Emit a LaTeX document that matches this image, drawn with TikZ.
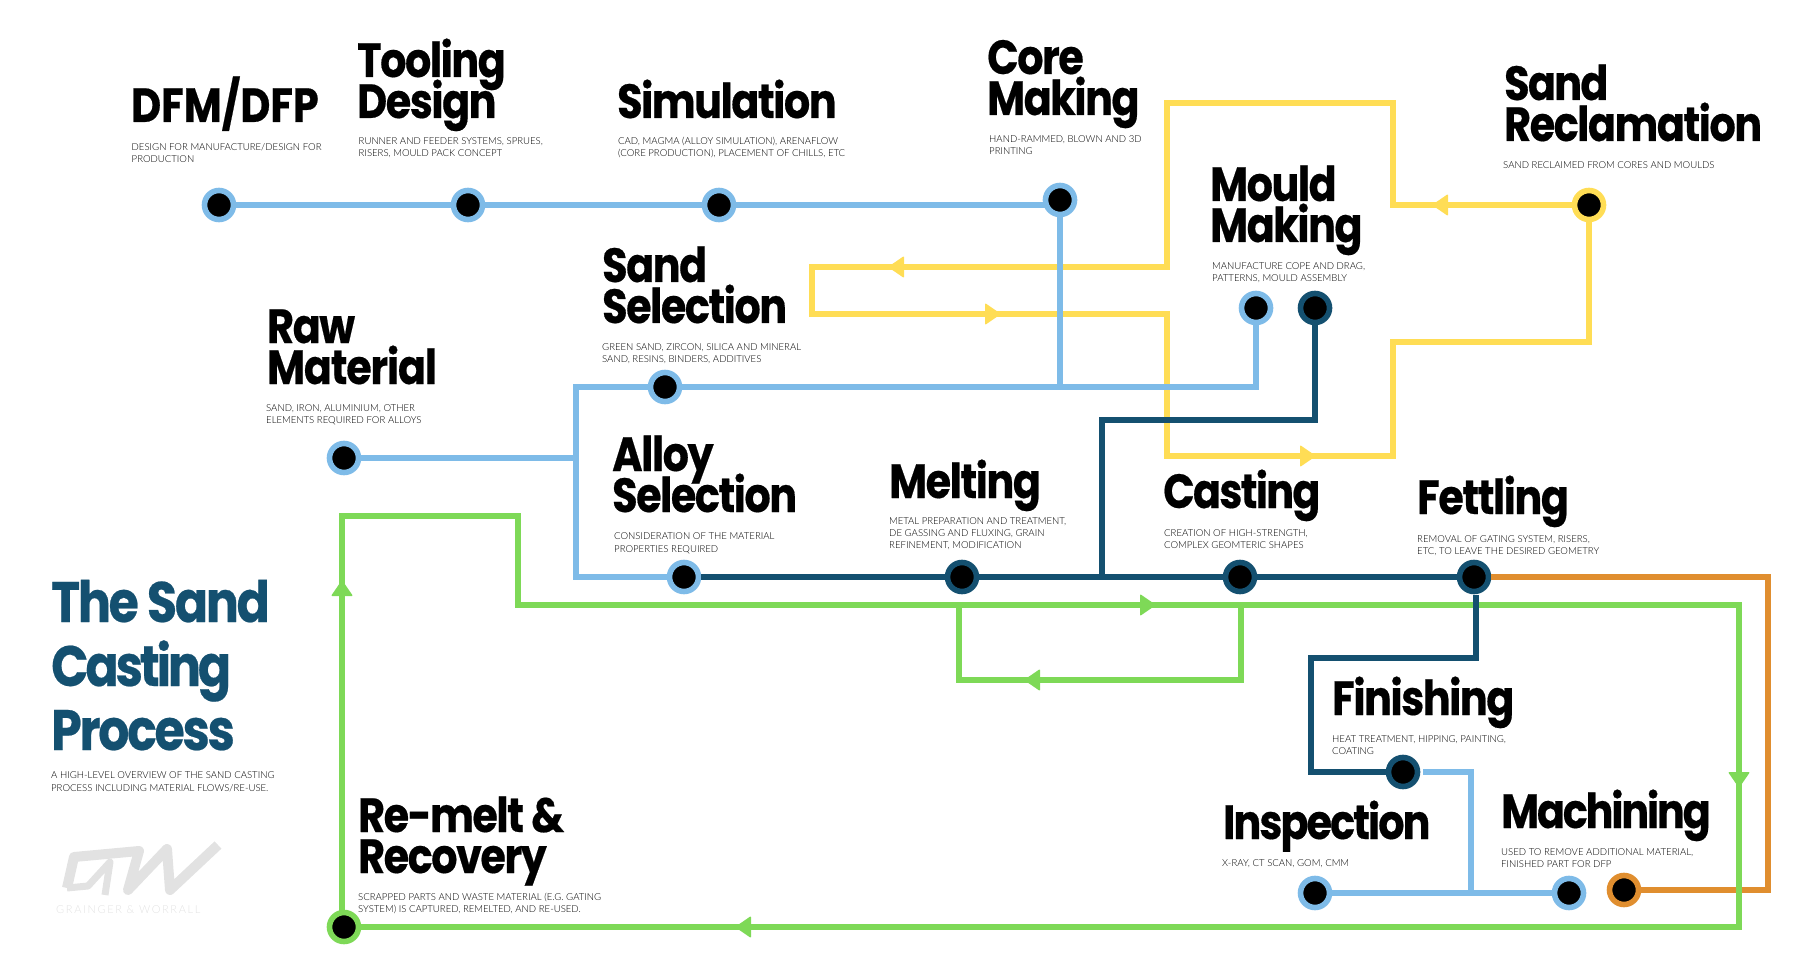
\documentclass[tikz,border=0pt]{standalone}
\usepackage{fontspec}
\newfontfamily\headfont[FakeStretch=0.86,LetterSpace=-3,FakeBold=0.4]{Poppins}
\newfontfamily\descfont{Lato Light}
\definecolor{pipeblue}{HTML}{7EBBE8}
\definecolor{pipedark}{HTML}{145070}
\definecolor{pipeyellow}{HTML}{FFDD55}
\definecolor{pipegreen}{HTML}{7ED957}
\definecolor{pipeorange}{HTML}{E08E2F}
\definecolor{logogray}{HTML}{E2E2E2}
\tikzset{
  pipe/.style={line width=5.4pt},
  stopdot/.style={circle,fill=black,minimum size=29pt,inner sep=0pt,line width=5.6pt},
  headtext/.style={anchor=base west,inner sep=0pt,xshift=-2pt,yshift=-1pt,align=left,font={\headfont\bfseries\fontsize{48}{41}\selectfont\lineskiplimit=-100pt}},
  titletext/.style={anchor=base west,inner sep=0pt,align=left,text=pipedark,font={\headfont\bfseries\fontsize{57}{64}\selectfont\addfontfeature{LetterSpace=-4}\lineskiplimit=-100pt}},
  desctext/.style={anchor=base west,inner sep=0pt,align=left,text=black,font=\descfont\fontsize{9.6}{12}\selectfont},
  flowtip/.pic={\fill[rounded corners=1pt] (-8,-11) -- (8,0) -- (-8,11) -- cycle;}
}
\begin{document}
\begin{tikzpicture}[x=1pt,y=-1pt]
  \useasboundingbox (0,0) rectangle (1799,968);
  % stops
  \node[stopdot,draw=pipeblue] (dfm) at (219,205) {};
  \node[stopdot,draw=pipeblue] (tooling) at (468,205) {};
  \node[stopdot,draw=pipeblue] (simulation) at (719,205) {};
  \node[stopdot,draw=pipeblue] (core) at (1060,200) {};
  \node[stopdot,draw=pipeyellow] (reclaim) at (1589,205) {};
  \node[stopdot,draw=pipeblue] (mouldblue) at (1256,308) {};
  \node[stopdot,draw=pipedark] (moulddark) at (1315,308) {};
  \node[stopdot,draw=pipeblue] (sandsel) at (665,387) {};
  \node[stopdot,draw=pipeblue] (raw) at (344,458) {};
  \node[stopdot,draw=pipeblue] (alloy) at (684,577) {};
  \node[stopdot,draw=pipedark] (melting) at (962,577) {};
  \node[stopdot,draw=pipedark] (casting) at (1240,577) {};
  \node[stopdot,draw=pipedark] (fettling) at (1474,577) {};
  \node[stopdot,draw=pipedark] (finishing) at (1403,772) {};
  \node[stopdot,draw=pipeblue] (inspection) at (1315,893) {};
  \node[stopdot,draw=pipeblue] (machining) at (1569,893) {};
  \node[stopdot,draw=pipeorange] (machout) at (1624,890) {};
  \node[stopdot,draw=pipegreen] (remelt) at (344,927) {};
  % bends
  \coordinate (oA) at (1768,577);
  \coordinate (yA) at (1393,205);
  \coordinate (yB) at (1393,103);
  \coordinate (yC) at (1167,103);
  \coordinate (yD) at (1167,267);
  \coordinate (yE) at (812,267);
  \coordinate (yF) at (812,314);
  \coordinate (yG) at (1167,314);
  \coordinate (yH) at (1167,456);
  \coordinate (yI) at (1393,456);
  \coordinate (yJ) at (1393,342);
  \coordinate (gS) at (342,912);
  \coordinate (gA) at (518,516);
  \coordinate (gB) at (518,605);
  \coordinate (gC) at (1739,605);
  \coordinate (gD) at (1739,927);
  \coordinate (gE) at (959,605);
  \coordinate (gF) at (1241,605);
  \coordinate (gG) at (1241,680);
  \coordinate (bA) at (576,387);
  \coordinate (bB) at (1423,772);
  \coordinate (bC) at (1471,893);
  \coordinate (bD) at (1045,205);
  \coordinate (dA) at (1102,577);
  \coordinate (dB) at (1102,420);
  \coordinate (dC) at (1476,595);
  \coordinate (dD) at (1476,658);
  \coordinate (dE) at (1311,658);
  % lines
  \draw[pipe,pipeorange] (fettling) -- (oA) |- (machout);
  \draw[pipe,pipeyellow] (reclaim) -- (yA) -- (yB) -- (yC) -- (yD) -- (yE) -- (yF) -- (yG) -- (yH) -- (yI) -- (yJ) -| (reclaim);
  \draw[pipe,pipegreen] (gS) |- (gA) -- (gB) -- (gC) -- (gD) -- (remelt);
  \draw[pipe,pipegreen] (gE) |- (gG) -- (gF);
  \draw[pipe,pipeblue] (dfm) -- (tooling) -- (simulation) -- (bD);
  \draw[pipe,pipeblue] (core) -- (core |- sandsel);
  \draw[pipe,pipeblue] (mouldblue) |- (sandsel) -- (bA) |- (alloy);
  \draw[pipe,pipeblue] (raw) -- (raw -| bA);
  \draw[pipe,pipeblue] (bB) -| (bC);
  \draw[pipe,pipeblue] (inspection) -- (machining);
  \draw[pipe,pipedark] (alloy) -- (melting) -- (casting) -- (fettling);
  \draw[pipe,pipedark] (moulddark) |- (dB) -- (dA);
  \draw[pipe,pipedark] (dC) -- (dD) -- (dE) |- (finishing);
  % arrow tips
  \pic[rotate=180,color=pipeyellow] at (1440,205) {flowtip};
  \pic[rotate=180,color=pipeyellow] at (896,267) {flowtip};
  \pic[color=pipeyellow] at (993,314) {flowtip};
  \pic[color=pipeyellow] at (1308,456) {flowtip};
  \pic[rotate=90,color=pipegreen] at (342,588) {flowtip};
  \pic[color=pipegreen] at (1148,605) {flowtip};
  \pic[rotate=180,color=pipegreen] at (1032,680) {flowtip};
  \pic[rotate=180,color=pipegreen] at (743,927) {flowtip};
  \pic[rotate=-90,color=pipegreen] at (1739,780) {flowtip};
  % stages
  \node[headtext] (dfmhead) at (133,121) {\addfontfeature{LetterSpace=0}DFM/DFP};
  \node[desctext] (dfmdesc) at (131.5,162.5) {DESIGN FOR MANUFACTURE/DESIGN FOR\\PRODUCTION};
  \node[headtext] (toolinghead) at (359,117) {Tooling\\Design};
  \node[desctext] (toolingdesc) at (358.5,157) {RUNNER AND FEEDER SYSTEMS, SPRUES,\\RISERS, MOULD PACK CONCEPT};
  \node[headtext] (simhead) at (619,117) {Simulation};
  \node[desctext] (simdesc) at (618,157) {CAD, MAGMA (ALLOY SIMULATION), ARENAFLOW\\(CORE PRODUCTION), PLACEMENT OF CHILLS, ETC};
  \node[headtext] (corehead) at (989,114) {Core\\Making};
  \node[desctext] (coredesc) at (989,155) {HAND-RAMMED, BLOWN AND 3D\\PRINTING};
  \node[headtext] (reclaimhead) at (1506,140) {\addfontfeature{LetterSpace=-3.5}Sand\\Reclamation};
  \node[desctext] (reclaimdesc) at (1503,169) {SAND RECLAIMED FROM CORES AND MOULDS};
  \node[headtext] (mouldhead) at (1212,241) {Mould\\Making};
  \node[desctext] (moulddesc) at (1212,282) {MANUFACTURE COPE AND DRAG,\\PATTERNS, MOULD ASSEMBLY};
  \node[headtext] (sandhead) at (604,322) {Sand\\Selection};
  \node[desctext] (sanddesc) at (602,362) {GREEN SAND, ZIRCON, SILICA AND MINERAL\\SAND, RESINS, BINDERS, ADDITIVES};
  \node[headtext] (rawhead) at (269,383) {Raw\\\addfontfeature{LetterSpace=-2.5}Material};
  \node[desctext] (rawdesc) at (266,423) {SAND, IRON, ALUMINIUM, OTHER\\ELEMENTS REQUIRED FOR ALLOYS};
  \node[headtext] (alloyhead) at (614,511) {Alloy\\Selection};
  \node[desctext] (alloydesc) at (614,552) {CONSIDERATION OF THE MATERIAL\\[1pt]PROPERTIES REQUIRED};
  \node[headtext] (meltinghead) at (891,497) {Melting};
  \node[desctext] (meltingdesc) at (889,548) {\addfontfeature{LetterSpace=-0.5}METAL PREPARATION AND TREATMENT,\\DE GASSING AND FLUXING, GRAIN\\REFINEMENT, MODIFICATION};
  \node[headtext] (castinghead) at (1165,507) {\addfontfeature{LetterSpace=-3.5}Casting};
  \node[desctext] (castingdesc) at (1164,548) {CREATION OF HIGH-STRENGTH,\\COMPLEX GEOMTERIC SHAPES};
  \node[headtext] (fettlinghead) at (1419,513) {Fettling};
  \node[desctext] (fettlingdesc) at (1417,554) {REMOVAL OF GATING SYSTEM, RISERS,\\ETC, TO LEAVE THE DESIRED GEOMETRY};
  \node[headtext] (finishinghead) at (1334,714) {Finishing};
  \node[desctext] (finishingdesc) at (1332,754) {HEAT TREATMENT, HIPPING, PAINTING,\\COATING};
  \node[headtext] (inspecthead) at (1225,838) {\addfontfeature{LetterSpace=-4}Inspection};
  \node[desctext] (inspectdesc) at (1222,866) {X-RAY, CT SCAN, GOM, CMM};
  \node[headtext] (machhead) at (1503,827) {\addfontfeature{LetterSpace=-4.5}Machining};
  \node[desctext] (machdesc) at (1501,867) {USED TO REMOVE ADDITIONAL MATERIAL,\\FINISHED PART FOR DFP};
  \node[headtext] (remelthead) at (360,872) {Re-melt \&\\Recovery};
  \node[desctext] (remeltdesc) at (358,912) {SCRAPPED PARTS AND WASTE MATERIAL (E.G. GATING\\SYSTEM) IS CAPTURED, REMELTED, AND RE-USED.};
  % title
  \node[titletext] (title) at (51,750) {The Sand\\\addfontfeature{LetterSpace=-5.5}Casting\\Process};
  \node[desctext] (subtitle) at (51,791) {A HIGH-LEVEL OVERVIEW OF THE SAND CASTING\\[1pt]PROCESS INCLUDING MATERIAL FLOWS/RE-USE.};
  % logo
  \draw[logogray,line width=10pt,line join=round] (67,888) -- (74,857) -- (139,851) -- (128,890) -- (167,849) -- (170,890) -- (218,845);
  \draw[logogray,line width=7pt,line join=round] (67,888) -- (88,886) -- (110,862) -- (105,895);
  \node[anchor=base west,inner sep=0pt,text=logogray,font=\descfont\fontsize{11}{12}\selectfont\addfontfeature{LetterSpace=15}] (logotext) at (56,913) {GRAINGER \& WORRALL};
\end{tikzpicture}
\end{document}
